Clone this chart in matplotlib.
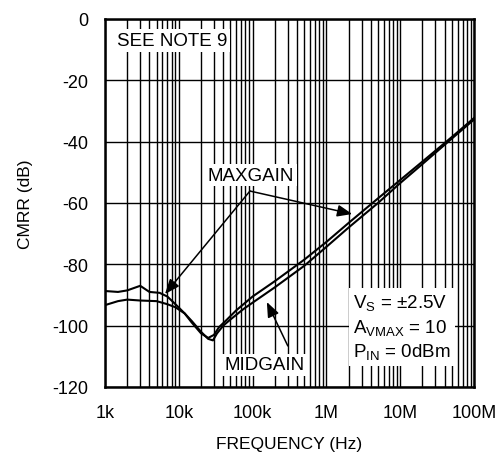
import matplotlib
matplotlib.use("Agg")
import matplotlib.pyplot as plt
import numpy as np
from matplotlib.ticker import FixedLocator, LogLocator, NullFormatter

plt.rcParams['font.family'] = ['Liberation Sans', 'DejaVu Sans']
plt.rcParams['mathtext.fontset'] = 'custom'
plt.rcParams['mathtext.rm'] = 'Liberation Sans'

# data
freq_max = [1e3, 1.5e3, 2e3, 3e3, 4e3, 5.5e3, 7e3, 9e3, 12e3, 15e3, 20e3, 25e3, 30e3,
            35e3, 45e3, 60e3, 100e3, 200e3, 500e3, 1e6, 2e6, 5e6, 10e6, 20e6, 50e6, 100e6]
cmrr_max = [-88.7, -89.0, -88.5, -87.0, -89.0, -89.3, -90.5, -93.0, -96.0, -99.0, -102.5, -104.0,
            -103.0, -100.5, -98.0, -95.0, -90.5, -85.5, -78.5, -72.7, -66.5, -58.5, -52.5, -46.5, -38.5, -32.3]
freq_mid = [1e3, 1.5e3, 2e3, 3e3, 5e3, 7e3, 9e3, 12e3, 15e3, 20e3, 25e3, 29e3, 33e3,
            40e3, 50e3, 75e3, 100e3, 200e3, 500e3, 1e6, 2e6, 5e6, 10e6, 20e6, 50e6, 100e6]
cmrr_mid = [-93.3, -92.0, -91.5, -91.8, -92.0, -93.0, -94.0, -96.0, -98.5, -102.0, -104.3, -104.8, -102.5,
            -100.0, -98.0, -94.6, -92.5, -87.5, -80.5, -74.3, -68.0, -60.0, -53.5, -47.3, -39.0, -32.8]
xticks = [1e3, 1e4, 1e5, 1e6, 1e7, 1e8]
xtick_labels = ['1k', '10k', '100k', '1M', '10M', '100M']
yticks = [0, -20, -40, -60, -80, -100, -120]

fig = plt.figure(figsize=(4.97, 4.60), dpi=100)
ax = fig.add_axes([105/497, 1-388/460, 369/497, 368/460])

ax.set_xscale('log')
ax.set_xlim(1e3, 1e8)
ax.set_ylim(-120, 0)

ax.plot(freq_max, cmrr_max, color='black', lw=1.5, zorder=3)
ax.plot(freq_mid, cmrr_mid, color='black', lw=1.5, zorder=3)

ax.xaxis.set_major_locator(FixedLocator(xticks))
ax.set_xticklabels(xtick_labels)
ax.xaxis.set_minor_locator(LogLocator(base=10, subs=np.arange(2, 10)))
ax.xaxis.set_minor_formatter(NullFormatter())
ax.set_yticks(yticks)
ax.set_yticklabels([str(v) for v in yticks])

ax.grid(True, which='major', color='black', lw=1.0, zorder=1)
ax.grid(True, which='minor', axis='x', color='black', lw=1.0, zorder=1)
ax.set_axisbelow(True)
ax.tick_params(axis='both', which='both', length=0, labelsize=13)
ax.tick_params(axis='x', pad=12)
ax.tick_params(axis='y', pad=12)
for s in ax.spines.values():
    s.set_linewidth(1.8)

ax.set_xlabel('FREQUENCY (Hz)', fontsize=12.5, labelpad=11)
ax.set_ylabel('CMRR (dB)', fontsize=12.5, labelpad=14)

box = dict(facecolor='white', edgecolor='none', pad=2)
ax.text(0.032, 0.942, 'SEE NOTE 9', transform=ax.transAxes, fontsize=13.5,
        ha='left', va='center', bbox=box, zorder=4)

# MAXGAIN
ax.text(0.278, 0.576, 'MAXGAIN', transform=ax.transAxes, fontsize=13.5,
        ha='left', va='center', bbox=box, zorder=4)
arr = dict(arrowstyle='-|>,head_length=0.75,head_width=0.3', color='black', lw=1.1,
           mutation_scale=12, shrinkA=0, shrinkB=0)
ax.annotate('', xy=(6.5e3, -89.7), xytext=(9.2e4, -56.1), arrowprops=arr, zorder=5)
ax.annotate('', xy=(2.24e6, -63.6), xytext=(9.2e4, -56.1), arrowprops=arr, zorder=5)

# MIDGAIN
ax.text(0.325, 0.06, 'MIDGAIN', transform=ax.transAxes, fontsize=13.5,
        ha='left', va='center', bbox=box, zorder=4)
ax.annotate('', xy=(1.56e5, -92.3), xytext=(3.0e5, -106.6), arrowprops=arr, zorder=5)

# conditions
ax.text(0.672, 0.162, 'V$_\\mathregular{S}$ = ±2.5V\nA$_\\mathregular{VMAX}$ = 10\nP$_\\mathregular{IN}$ = 0dBm',
        transform=ax.transAxes, fontsize=13.5, ha='left', va='center',
        linespacing=1.3, bbox=dict(facecolor='white', edgecolor='none', pad=3), zorder=4)

fig.savefig('out.png', dpi=100)
